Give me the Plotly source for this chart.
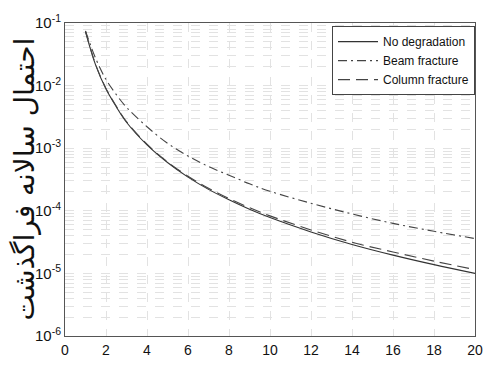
import plotly.graph_objects as go

x_vals = [1, 1.5, 2, 2.5, 3, 4, 5, 6, 7, 8, 9, 10, 12, 14, 16, 18, 20]
no_degradation = [0.072, 0.021, 0.0088, 0.0046, 0.0026, 0.00113, 5.9e-4, 3.45e-4, 2.2e-4,
                  1.5e-4, 1.06e-4, 7.8e-5, 4.6e-5, 2.9e-5, 1.96e-5, 1.38e-5, 1.0e-5]
beam_fracture = [0.075, 0.027, 0.0125, 0.0072, 0.0045, 0.0022, 0.0012, 7.5e-4, 5.1e-4,
                 3.7e-4, 2.7e-4, 2.05e-4, 1.32e-4, 8.9e-5, 6.3e-5, 4.7e-5, 3.6e-5]
column_fracture = [0.074, 0.0215, 0.009, 0.0047, 0.00266, 0.00116, 6.05e-4, 3.57e-4, 2.3e-4,
                   1.57e-4, 1.12e-4, 8.3e-5, 4.95e-5, 3.15e-5, 2.2e-5, 1.57e-5, 1.15e-5]

x_ticks = [0, 2, 4, 6, 8, 10, 12, 14, 16, 18, 20]
y_ticks = [1e-6, 1e-5, 1e-4, 1e-3, 1e-2, 1e-1]
y_ticktext = ["10<sup>-6</sup>", "10<sup>-5</sup>", "10<sup>-4</sup>",
              "10<sup>-3</sup>", "10<sup>-2</sup>", "10<sup>-1</sup>"]
y_title = "احتمال سالانه فراگذشت"

fig = go.Figure()
fig.add_trace(go.Scatter(x=x_vals, y=no_degradation, mode="lines", name="No degradation",
                         line=dict(color="#333333", width=1.1, shape="spline")))
fig.add_trace(go.Scatter(x=x_vals, y=beam_fracture, mode="lines", name="Beam fracture",
                         line=dict(color="#444444", width=1.1, shape="spline",
                                   dash="9px,4px,2px,4px")))
fig.add_trace(go.Scatter(x=x_vals, y=column_fracture, mode="lines", name="Column fracture",
                         line=dict(color="#444444", width=1.1, shape="spline",
                                   dash="12px,6px")))

grid = "#e2e2e2"
fig.update_layout(
    width=495, height=370,
    margin=dict(l=65, r=12, t=21, b=18),
    paper_bgcolor="white", plot_bgcolor="white",
    font=dict(family="Liberation Sans, Arial, sans-serif", size=14, color="#111111"),
    showlegend=True,
    legend=dict(x=1.0, y=0.99, xanchor="right", yanchor="top",
                bgcolor="white", bordercolor="#444444", borderwidth=1,
                font=dict(size=12, color="#111111"), tracegroupgap=0,
                itemwidth=40),
    xaxis=dict(range=[0, 20], tickvals=x_ticks, ticks="", showgrid=True,
               gridcolor=grid, griddash="dash", gridwidth=1,
               showline=True, mirror=True, linecolor="#555555", linewidth=1,
               zeroline=False, ticklabelstandoff=1),
    yaxis=dict(type="log", range=[-6, -1], tickvals=y_ticks, ticktext=y_ticktext,
               ticks="", showgrid=True, gridcolor=grid, griddash="dash", gridwidth=1,
               showline=True, mirror=True, linecolor="#555555", linewidth=1,
               zeroline=False, tickfont=dict(size=15),
               minor=dict(showgrid=True, gridcolor=grid, griddash="dash", gridwidth=1,
                          dtick="D1", ticks="")),
)
fig.add_annotation(text=y_title, xref="paper", yref="paper", x=-0.1, y=0.5,
                   textangle=-90, showarrow=False, xanchor="center", yanchor="middle",
                   font=dict(family="DejaVu Sans", size=28, color="#111111"))

fig.write_html("out.html")
